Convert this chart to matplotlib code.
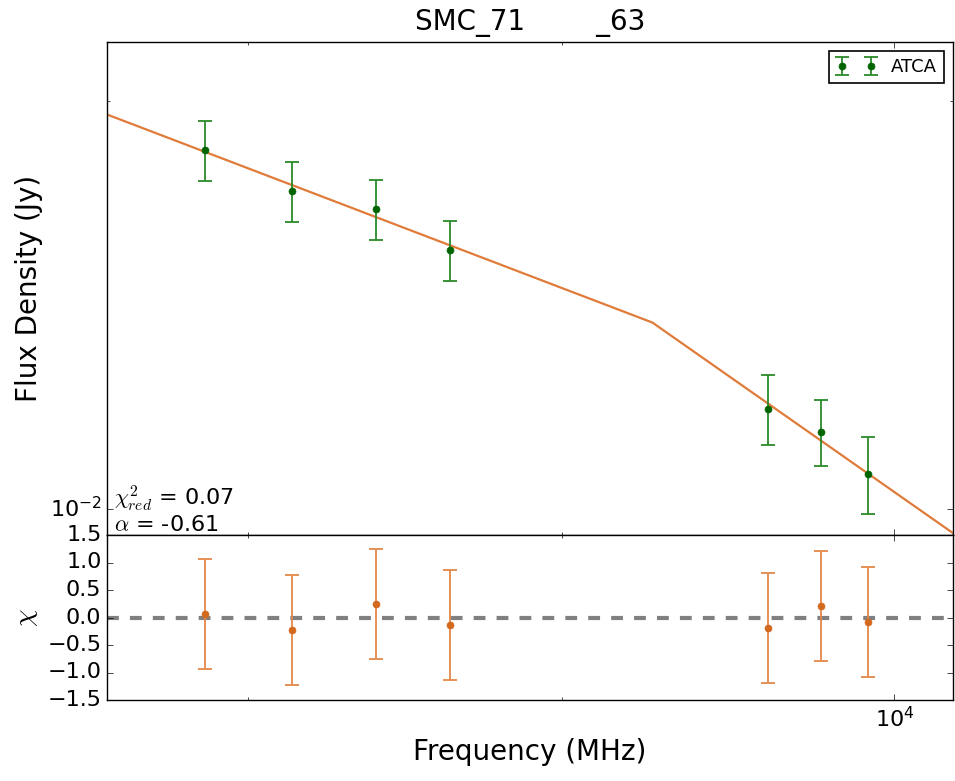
import matplotlib
matplotlib.use("Agg")
import matplotlib.pyplot as plt
from matplotlib.ticker import FixedLocator, NullFormatter

plt.style.use('classic')

# ---- data ----
freq_mhz = [4777, 5241, 5740, 6214, 8735, 9248, 9725]
flux_jy = [0.01841, 0.01717, 0.01665, 0.01553, 0.01185, 0.01140, 0.01061]
flux_err = [0.00094, 0.00088, 0.00085, 0.00080, 0.00070, 0.00064, 0.00070]

# fitted broken power-law model, vertices in log-log space
model_freq = [4000, 7716, 11000]
model_flux = [0.02043, 0.01373, 0.00926]

chi_resid = [0.06, -0.22, 0.24, -0.13, -0.19, 0.21, -0.09]
chi_err = [1, 1, 1, 1, 1, 1, 1]

title = 'SMC_71        _63'
chi2_red = 0.07
alpha = -0.61

xlim = (4300, 10650)
ylim = (0.009568, 0.02212)
rlim = (-1.5, 1.5)
x_minor = [5000, 7000]
y_minor = [0.02]

green = '#2a8a2a'
green_dark = '#006400'
orange = '#e3884a'
orange_dark = '#d2691e'
line_orange = '#e07b39'

fig = plt.figure(figsize=(9.55, 7.81), dpi=100, facecolor='white')
W, H = 955.0, 781.0
ax = fig.add_axes([107 / W, (H - 535) / H, (953 - 107) / W, (535 - 42) / H])
axr = fig.add_axes([107 / W, (H - 700) / H, (953 - 107) / W, (700 - 535) / H], sharex=ax)
for a in (ax, axr):
    a.set_facecolor('white')

ax.plot(model_freq, model_flux, '-', color=line_orange, lw=1.6, zorder=2)
ax.errorbar(freq_mhz, flux_jy, yerr=flux_err, fmt='o', color=green_dark,
            ecolor=green, elinewidth=1.3, capsize=5, capthick=1.3,
            markersize=5, markeredgecolor=green_dark, label='ATCA', zorder=3)
ax.set_xscale('log')
ax.set_yscale('log')
ax.set_xlim(*xlim)
ax.set_ylim(*ylim)
ax.set_ylabel('Flux Density (Jy)', fontsize=20)
ax.set_title(title, fontsize=20, y=1.01)

ax.yaxis.set_minor_locator(FixedLocator(y_minor))
ax.yaxis.set_minor_formatter(NullFormatter())
ax.xaxis.set_minor_locator(FixedLocator(x_minor))
ax.xaxis.set_minor_formatter(NullFormatter())
ax.tick_params(axis='x', which='both', labelbottom=False)
ax.tick_params(axis='y', labelsize=16)

leg = ax.legend(loc='upper right', numpoints=2, fontsize=13, fancybox=False,
                handlelength=2.2, borderpad=0.4)
leg.get_frame().set_edgecolor('black')
leg.get_frame().set_linewidth(1.2)

ax.text(0.008, 0.0, '$\\chi^2_{red}$ = %.2f\n$\\alpha$ = %.2f' % (chi2_red, alpha),
        transform=ax.transAxes, fontsize=16, ha='left', va='bottom',
        linespacing=1.1)

axr.axhline(0, color='gray', ls='--', lw=3, dashes=(8.5, 8), zorder=1)
axr.errorbar(freq_mhz, chi_resid, yerr=chi_err, fmt='o', color=orange_dark,
             ecolor=orange, elinewidth=1.3, capsize=5, capthick=1.3,
             markersize=5, markeredgecolor=orange_dark, zorder=3)
axr.set_xscale('log')
axr.set_xlim(*xlim)
axr.set_ylim(*rlim)
axr.set_yticks([-1.5, -1.0, -0.5, 0.0, 0.5, 1.0, 1.5])
axr.xaxis.set_minor_locator(FixedLocator(x_minor))
axr.xaxis.set_minor_formatter(NullFormatter())
axr.tick_params(axis='both', labelsize=16)
axr.set_ylabel('$\\chi$', fontsize=20)
axr.set_xlabel('Frequency (MHz)', fontsize=20)

fig.savefig('out.png', dpi=100, facecolor='white')
